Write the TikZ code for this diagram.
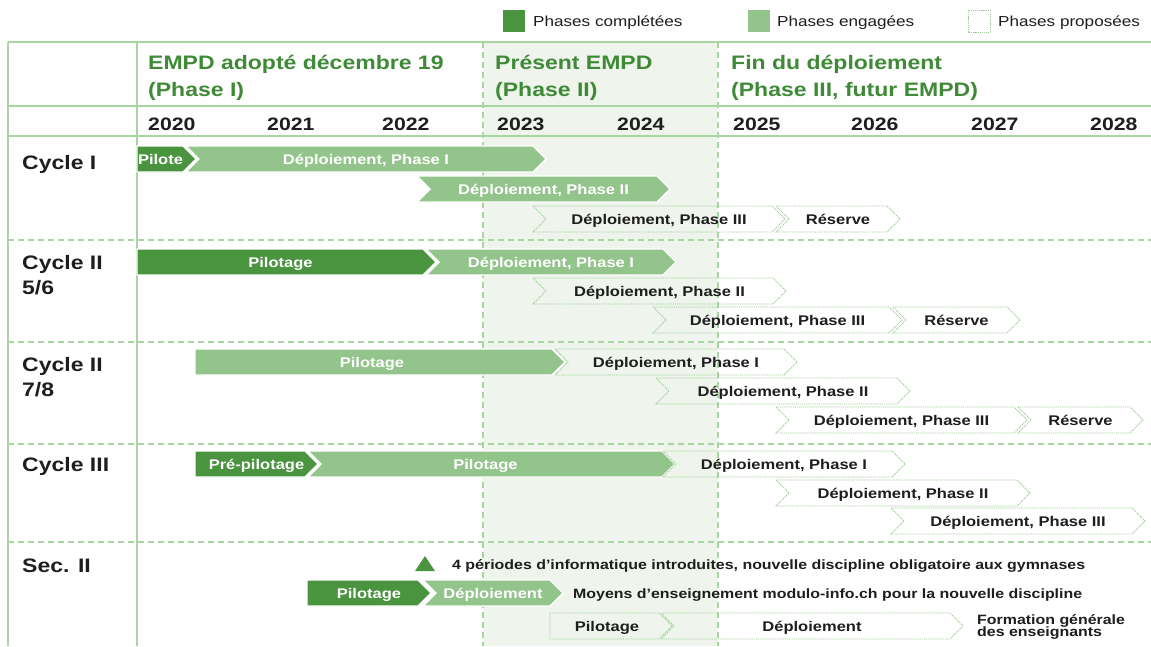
\documentclass[tikz,border=0pt]{standalone}
\usepackage{fontspec}
\setmainfont{Liberation Sans}[FakeStretch=1.18]
\definecolor{cdone}{HTML}{4A943F}
\definecolor{ceng}{HTML}{93C48B}
\definecolor{chead}{HTML}{3F8A36}
\definecolor{cline}{HTML}{A8D6A1}
\definecolor{cshade}{HTML}{EFF5ED}
\definecolor{cdot}{HTML}{9CCF94}
\definecolor{ctext}{HTML}{1E1E1E}
% #1 text xshift, #2 name, #3 style, #4 x0, #5 tip x, #6 y centre, #7 notch depth, #8 text
\newcommand\chev[8][0]{%
  \pgfmathsetmacro\cxa{#4}\pgfmathsetmacro\cxb{#5}\pgfmathsetmacro\cyc{#6}%
  \pgfmathsetmacro\cxt{\cxb-13}\pgfmathsetmacro\cxn{\cxa+#7}%
  \pgfmathsetmacro\cyt{\cyc-13}\pgfmathsetmacro\cyb{\cyc+13}%
  \pgfmathsetmacro\cxm{(\cxa+\cxb)/2+(#1)}%
  \path[#3] (\cxa,\cyt) -- (\cxt,\cyt) -- (\cxb,\cyc) -- (\cxt,\cyb) -- (\cxa,\cyb) -- (\cxn,\cyc) -- cycle;
  \node[#3txt] (#2) at (\cxm,\cyc) {#8};}
\begin{document}
\begin{tikzpicture}[x=1pt,y=-1pt,
  gridline/.style={draw=cline, line width=1.5pt},
  griddash/.style={draw=cline, line width=1.3pt, dash pattern=on 6pt off 4pt},
  done/.style={fill=cdone, draw=white, line width=1.4pt, line join=miter},
  eng/.style={fill=ceng, draw=white, line width=1.4pt, line join=miter},
  prop/.style={draw=cdot, line width=0.9pt, dash pattern=on 1.2pt off 0.9pt},
  bartext/.style={font=\fontsize{14}{16}\selectfont\bfseries, inner sep=0pt, text height=10pt, text depth=0pt},
  donetxt/.style={bartext, text=white},
  engtxt/.style={bartext, text=white},
  proptxt/.style={bartext, text=ctext},
  headtxt/.style={font=\fontsize{19.5}{27}\selectfont\bfseries, text=chead, align=left, anchor=north west, inner sep=0pt},
  rowtxt/.style={font=\fontsize{19.5}{25}\selectfont\bfseries, text=ctext, align=left, anchor=north west, inner sep=0pt},
  yeartxt/.style={font=\fontsize{18}{20}\selectfont\bfseries, text=ctext, anchor=base west, inner sep=0pt},
  legtxt/.style={font=\fontsize{14.5}{16}\selectfont, text=ctext, anchor=base west, inner sep=0pt},
  sectxt/.style={font={\fontsize{13.5}{12.5}\selectfont\bfseries\lineskiplimit=-20pt}, text=ctext, anchor=base west, inner sep=0pt, align=left},
]
\useasboundingbox (0,0) rectangle (1151,646);
\fill[white] (0,0) rectangle (1151,646);
% present band
\fill[cshade] (483,42) rectangle (718,646);
% table lines
\draw[gridline] (8,42) -- (1151,42);
\draw[gridline] (8,106) -- (1151,106);
\draw[gridline] (8,136) -- (1151,136);
\draw[gridline] (8,42) -- (8,646);
\draw[gridline] (137,42) -- (137,646);
\foreach \yy in {240,342,444,542} {\draw[griddash] (8,\yy) -- (1151,\yy);}
\foreach \xx in {483,718} {\draw[griddash] (\xx,42) -- (\xx,646);}
% legend
\fill[cdone] (503,10) rectangle (525,32);
\node[legtxt] (lg1) at (533,26) {Phases complétées};
\fill[ceng] (748,10) rectangle (770,32);
\node[legtxt] (lg2) at (777,26) {Phases engagées};
\draw[prop] (968,10) rectangle (990,32);
\node[legtxt] (lg3) at (998,26) {Phases proposées};
% headers
\node[headtxt] (h1) at (148,49) {\rule{0pt}{20pt}EMPD adopté décembre 19\\(Phase I)};
\node[headtxt] (h2) at (495,49) {\rule{0pt}{20pt}Présent EMPD\\(Phase II)};
\node[headtxt] (h3) at (731,49) {\rule{0pt}{20pt}Fin du déploiement\\(Phase III, futur EMPD)};
% years
\node[yeartxt] (y20) at (148,130) {2020};
\node[yeartxt] (y21) at (267,130) {2021};
\node[yeartxt] (y22) at (382,130) {2022};
\node[yeartxt] (y23) at (497,130) {2023};
\node[yeartxt] (y24) at (617,130) {2024};
\node[yeartxt] (y25) at (733,130) {2025};
\node[yeartxt] (y26) at (851,130) {2026};
\node[yeartxt] (y27) at (971,130) {2027};
\node[yeartxt] (y28) at (1090,130) {2028};
% row labels
\node[rowtxt] (r1) at (22,149) {\rule{0pt}{20pt}Cycle I};
\node[rowtxt] (r2) at (22,249) {\rule{0pt}{20pt}Cycle II\\5/6};
\node[rowtxt] (r3) at (22,351) {\rule{0pt}{20pt}Cycle II\\7/8};
\node[rowtxt] (r4) at (22,451) {\rule{0pt}{20pt}Cycle III};
\node[rowtxt] (r5) at (22,552) {\rule{0pt}{20pt}Sec. II};
% Cycle I
\chev[-6]{c1pil}{done}{137}{196}{159}{0}{Pilote}
\chev{c1d1}{eng}{186}{546}{159}{13}{Déploiement, Phase I}
\chev{c1d2}{eng}{417}{670}{189}{13}{Déploiement, Phase II}
\chev{c1d3}{prop}{533}{785}{219}{13}{Déploiement, Phase III}
\chev{c1res}{prop}{776}{900}{219}{13}{Réserve}
% Cycle II 5/6
\chev[-6]{c2pil}{done}{137}{436}{262}{0}{Pilotage}
\chev{c2d1}{eng}{426}{676}{262}{13}{Déploiement, Phase I}
\chev{c2d2}{prop}{533}{786}{291}{13}{Déploiement, Phase II}
\chev{c2d3}{prop}{653}{902}{320}{13}{Déploiement, Phase III}
\chev{c2res}{prop}{893}{1020}{320}{13}{Réserve}
% Cycle II 7/8
\chev[-8]{c3pil}{eng}{195}{565}{362}{0}{Pilotage}
\chev{c3d1}{prop}{555}{797}{362}{13}{Déploiement, Phase I}
\chev{c3d2}{prop}{656}{910}{391}{13}{Déploiement, Phase II}
\chev{c3d3}{prop}{776}{1027}{420}{13}{Déploiement, Phase III}
\chev{c3res}{prop}{1018}{1143}{420}{13}{Réserve}
% Cycle III
\chev{c4pre}{done}{195}{318}{464}{0}{Pré-pilotage}
\chev[-6]{c4pil}{eng}{308}{675}{464}{13}{Pilotage}
\chev{c4d1}{prop}{663}{905}{464}{13}{Déploiement, Phase I}
\chev{c4d2}{prop}{776}{1030}{493}{13}{Déploiement, Phase II}
\chev{c4d3}{prop}{891}{1145}{521}{13}{Déploiement, Phase III}
% Sec. II
\fill[cdone] (415,571) -- (435,571) -- (425,556) -- cycle;
\node[sectxt] (s2a) at (452,569) {4 périodes d’informatique introduites, nouvelle discipline obligatoire aux gymnases};
\chev{s2pil}{done}{307}{431}{593}{0}{Pilotage}
\chev{s2dep}{eng}{423}{563}{593}{13}{Déploiement}
\node[sectxt] (s2b) at (573,598) {Moyens d’enseignement modulo-info.ch pour la nouvelle discipline};
\chev[-4]{s3pil}{prop}{550}{672}{626}{0}{Pilotage}
\chev{s3dep}{prop}{661}{963}{626}{13}{Déploiement}
\node[sectxt, anchor=north west] (s3f) at (977,610) {\rule{0pt}{14pt}Formation générale\\des enseignants};
\end{tikzpicture}
\end{document}
